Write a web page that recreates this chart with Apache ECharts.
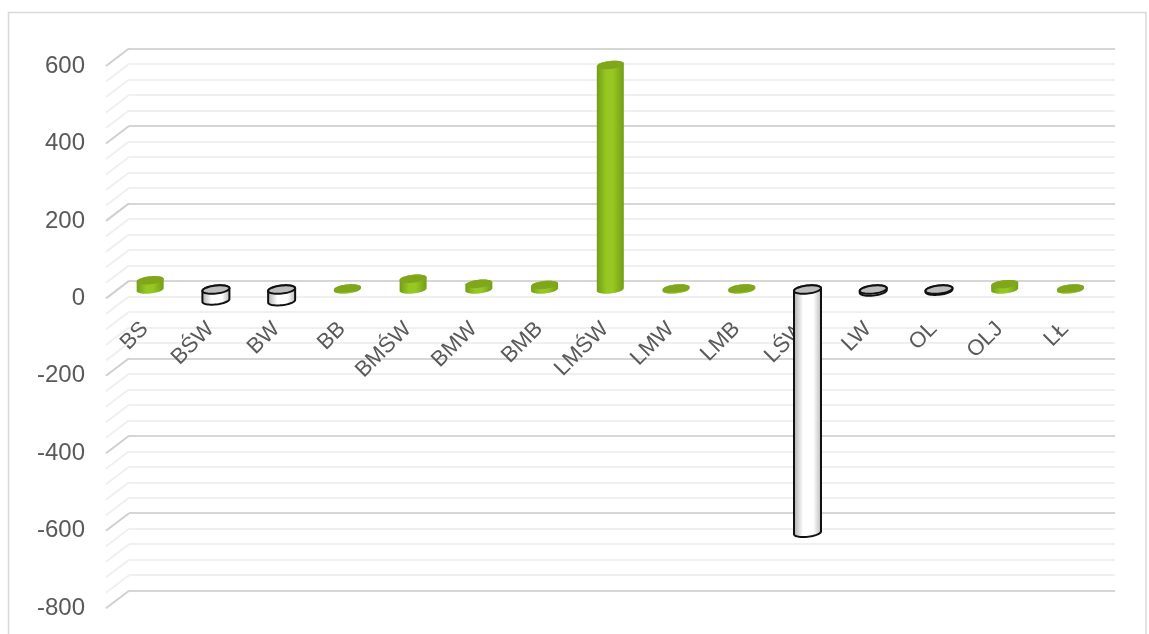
<!DOCTYPE html>
<html><head><meta charset="utf-8">
<style>html,body{margin:0;padding:0;background:#fff}#c{width:1149px;height:634px}</style>
<script src="https://cdn.jsdelivr.net/npm/echarts@6/dist/echarts.min.js"></script>
</head><body><div id="c"></div>
<script>
var categories = ['BS','BŚW','BW','BB','BMŚW','BMW','BMB','LMŚW','LMW','LMB','LŚW','LW','OL','OLJ','LŁ'];
var values = [24,-28,-30,3,28,15,12,580,3,3,-628,-5,-3,14,3];
var majorTicks = [600,400,200,0,-200,-400,-600,-800];
var minorTicks = [560,520,480,440,360,320,280,240,160,120,80,40,-40,-80,-120,-160,-240,-280,-320,-360,-440,-480,-520,-560,-640,-680,-720,-760];

var DEPTH_X = -23, DEPTH_Y = 17.5, MID_X = -11.7, MID_Y = 8.7, RX = 13.5, RY = 4, TILT = 0.1;
var FONT = '"Liberation Sans Narrow","Liberation Sans",sans-serif';
var GREEN_BODY = {type:'linear',x:0,y:0,x2:1,y2:0,colorStops:[{offset:0,color:'#739e16'},{offset:0.35,color:'#97c722'},{offset:0.6,color:'#97c722'},{offset:1,color:'#739e16'}]};
var WHITE_BODY = {type:'linear',x:0,y:0,x2:1,y2:0,colorStops:[{offset:0,color:'#a8a8a8'},{offset:0.35,color:'#ffffff'},{offset:0.7,color:'#ffffff'},{offset:1,color:'#b4b4b4'}]};

function ell(cx, cy, t, rx){ return [cx + rx*Math.cos(t), cy + RY*Math.sin(t) - TILT*rx*Math.cos(t)]; }
function cylinder(params, api){
  var i = api.value(0), v = api.value(1);
  var p0 = api.coord([i,0]), pv = api.coord([i,v]);
  var cx = p0[0] + MID_X;
  var neg = v < 0;
  var topY = (neg ? p0[1] : pv[1]) + MID_Y;
  var botY = (neg ? pv[1] : p0[1]) + MID_Y;
  var pts = [], n = 24, k;
  for (k = 0; k <= n; k++) pts.push(ell(cx, botY, Math.PI - Math.PI*k/n, RX));
  for (k = 0; k <= n; k++) pts.push(ell(cx, topY, -Math.PI*k/n, RX));
  var top = [];
  for (k = 0; k < 48; k++) top.push(ell(cx, topY, 2*Math.PI*k/48, RX));
  var stroke = neg ? '#111' : null, lw = neg ? 2 : 0;
  return {type:'group', children:[
    {type:'polygon', shape:{points:pts}, style:{fill: neg?WHITE_BODY:GREEN_BODY, stroke:stroke, lineWidth:lw}},
    {type:'polygon', shape:{points:top}, style:{fill: neg?'#bdbdbd':'#80a61c', stroke:stroke, lineWidth:lw}}
  ]};
}
function wallLine(color){ return function(params, api){
  var p = api.coord([0, api.value(0)]);
  var x = params.coordSys.x;
  return {type:'line', shape:{x1:x, y1:p[1], x2:x+DEPTH_X, y2:p[1]+DEPTH_Y}, style:{stroke:color, lineWidth:2}};
};}

var chart = echarts.init(document.getElementById('c'), null, {renderer:'canvas'});
chart.setOption({
  animation:false,
  backgroundColor:'#fff',
  textStyle:{fontFamily:FONT},
  graphic:[
    {type:'polyline', z:-1, shape:{points:[[8.5,634],[8.5,12.5],[1146,12.5],[1146,634]]}, style:{stroke:'#d9d9d9', lineWidth:1.5, fill:null}}
  ],
  grid:{left:129, right:34, top:48.5, bottom:43.3, containLabel:false, outerBoundsMode:'none'},
  xAxis:{type:'category', data:categories, axisLine:{show:false, onZero:false}, axisTick:{show:false}, splitLine:{show:false},
    axisLabel:{interval:0, rotate:45, margin:-282, padding:[0,24,0,0], fontFamily:FONT, fontSize:22, color:'#595959', hideOverlap:false}},
  yAxis:{type:'value', min:-800, max:600, interval:200, axisLine:{show:false}, axisTick:{show:false},
    minorTick:{show:false, splitNumber:5},
    splitLine:{show:true, lineStyle:{color:'#d6d6d6', width:2}},
    minorSplitLine:{show:true, lineStyle:{color:'#f0f0f0', width:2}},
    axisLabel:{margin:44, verticalAlign:'top', lineHeight:35, fontFamily:FONT, fontSize:24, color:'#595959'}},
  series:[
    {type:'custom', name:'major', silent:true, z:1, data:majorTicks.map(function(v){return [v];}), encode:{y:0}, renderItem:wallLine('#d0d0d0')},
    {type:'custom', name:'minor', silent:true, z:1, data:minorTicks.map(function(v){return [v];}), encode:{y:0}, renderItem:wallLine('#f0f0f0')},
    {type:'custom', name:'value', z:5, data:categories.map(function(c,i){return [i, values[i]];}), encode:{x:0,y:1}, renderItem:cylinder, clip:false}
  ]
});
</script></body></html>
